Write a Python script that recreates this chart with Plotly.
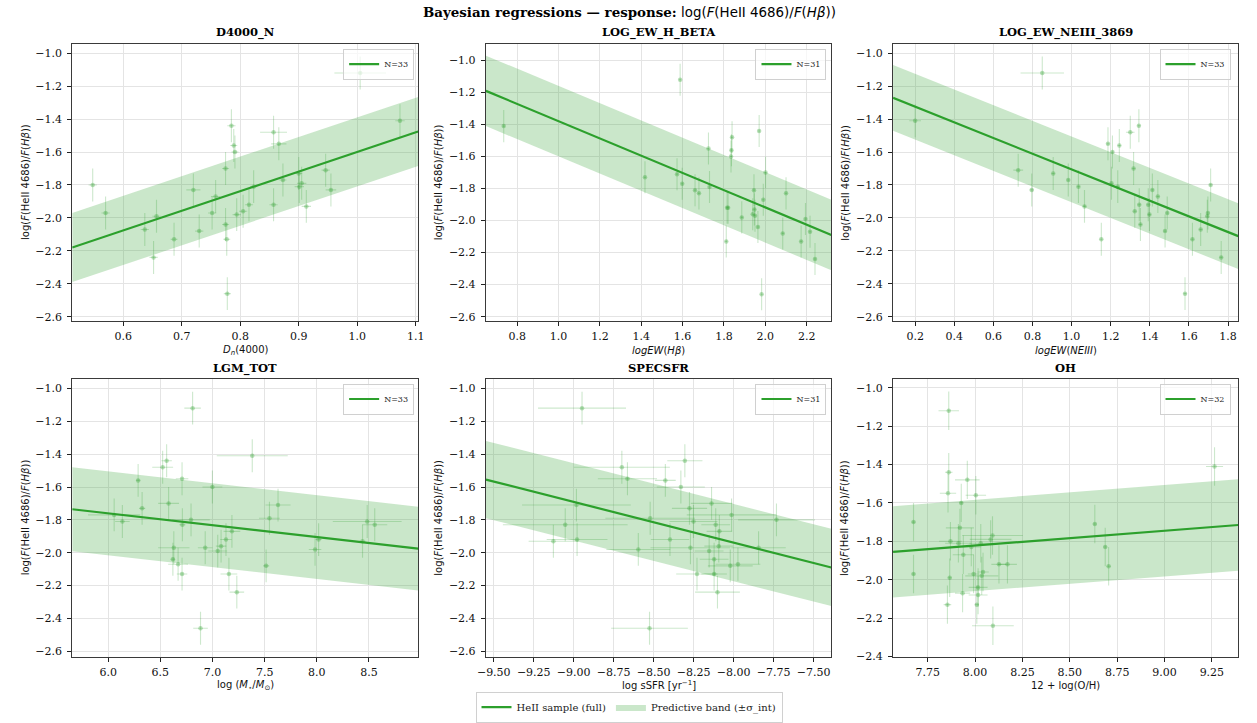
import numpy as np
import plotly.graph_objects as go

W, H = 1257, 723
GREEN = "#2ca02c"
PT_COL = "rgba(44,160,44,0.32)"
ERR_COL = "rgba(44,160,44,0.24)"
BAND_COL = "rgba(44,160,44,0.25)"
SERIF = "DejaVu Serif"
SANS = "DejaVu Sans"

# ---------------- data ----------------
YERR = 0.10

# D4000_N
D4000_X = [0.548, 0.570, 0.637, 0.652, 0.657, 0.687, 0.720, 0.730, 0.752, 0.758, 0.775,
           0.775, 0.777, 0.778, 0.785, 0.789, 0.791, 0.794, 0.805, 0.815, 0.823, 0.857,
           0.857, 0.866, 0.873, 0.900, 0.901, 0.905, 0.913, 0.946, 0.955, 1.005, 1.073]
D4000_Y = [-1.80, -1.97, -2.07, -2.24, -1.99, -2.13, -1.83, -2.08, -1.97, -1.87, -1.70,
           -2.04, -2.13, -2.46, -1.44, -1.56, -1.60, -1.98, -1.96, -1.92, -1.81, -1.48,
           -1.92, -1.55, -1.77, -1.73, -1.81, -1.79, -1.93, -1.71, -1.83, -1.12, -1.41]
D4000_XERR = [0.007, 0.007, 0.007, 0.007, 0.007, 0.006, 0.012, 0.007, 0.007, 0.008, 0.006,
              0.006, 0.006, 0.006, 0.007, 0.006, 0.006, 0.007, 0.007, 0.007, 0.006, 0.023,
              0.007, 0.013, 0.006, 0.006, 0.008, 0.008, 0.008, 0.007, 0.009, 0.044, 0.008]

# LOG_EW_H_BETA
HB_X = [0.735, 1.418, 1.573, 1.588, 1.598, 1.660, 1.679, 1.725, 1.730, 1.811, 1.815,
        1.820, 1.834, 1.836, 1.839, 1.886, 1.939, 1.945, 1.947, 1.950, 1.964, 1.970,
        1.982, 1.990, 2.001, 2.084, 2.100, 2.173, 2.194, 2.216, 2.240]
HB_Y = [-1.41, -1.73, -1.71, -1.12, -1.77, -1.81, -1.83, -1.55, -1.79, -2.13, -1.92,
        -1.92, -1.60, -1.56, -1.48, -1.98, -1.96, -1.81, -1.93, -1.97, -2.04, -1.44,
        -2.46, -1.87, -1.70, -2.08, -1.83, -2.13, -1.99, -2.07, -2.24]
HB_XERR = [0.006] * 31

# LOG_EW_NEIII_3869
NE_X = [0.200, 0.850, 0.727, 0.796, 0.906, 0.983, 1.035, 1.066, 1.152, 1.186, 1.209,
        1.204, 1.244, 1.236, 1.300, 1.344, 1.317, 1.323, 1.346, 1.352, 1.392, 1.398,
        1.413, 1.441, 1.478, 1.489, 1.580, 1.618, 1.660, 1.694, 1.697, 1.711, 1.765]
NE_Y = [-1.41, -1.12, -1.71, -1.83, -1.73, -1.77, -1.81, -1.93, -2.13, -1.55, -1.60,
        -1.79, -1.56, -1.81, -1.48, -1.44, -1.70, -1.96, -1.92, -2.04, -1.92, -1.98,
        -1.83, -1.87, -2.08, -1.97, -2.46, -2.13, -2.07, -1.99, -1.97, -1.80, -2.24]
NE_XERR = [0.030, 0.111, 0.025, 0.010, 0.008, 0.008, 0.008, 0.008, 0.008, 0.008, 0.008,
           0.008, 0.008, 0.008, 0.022, 0.008, 0.008, 0.008, 0.008, 0.008, 0.008, 0.008,
           0.008, 0.008, 0.008, 0.008, 0.008, 0.008, 0.008, 0.008, 0.008, 0.008, 0.008]

# LGM_TOT
LGM_X = [6.809, 6.287, 6.325, 6.057, 6.136, 6.522, 6.560, 6.579, 6.708, 6.711, 6.794,
         6.629, 6.620, 6.670, 6.708, 6.885, 6.930, 6.999, 7.050, 7.082, 7.129, 7.186,
         7.157, 7.233, 7.381, 7.514, 7.546, 7.628, 7.983, 8.017, 8.483, 8.555, 8.438]
LGM_Y = [-1.12, -1.56, -1.73, -1.77, -1.81, -1.48, -1.44, -1.70, -1.55, -1.83, -1.80,
         -1.97, -2.04, -2.07, -2.13, -2.46, -1.97, -1.60, -1.99, -1.96, -1.92, -1.87,
         -2.13, -2.24, -1.41, -2.08, -1.79, -1.71, -1.98, -1.92, -1.81, -1.83, -1.93]
LGM_XERR = [0.079, 0.020, 0.030, 0.250, 0.070, 0.100, 0.050, 0.100, 0.060, 0.030, 0.180,
            0.150, 0.020, 0.095, 0.050, 0.070, 0.070, 0.095, 0.090, 0.050, 0.055, 0.080,
            0.080, 0.070, 0.340, 0.030, 0.100, 0.120, 0.060, 0.030, 0.330, 0.120, 0.030]

# SPECSFR
SSFR_X = [-8.948, -9.127, -9.053, -8.983, -8.979, -8.699, -8.664, -8.596, -8.526, -8.522,
          -8.427, -8.398, -8.330, -8.305, -8.276, -8.270, -8.251, -8.229, -8.153, -8.138,
          -8.122, -8.122, -8.112, -8.101, -8.089, -8.093, -8.021, -8.013, -7.973, -7.844, -7.732]
SSFR_Y = [-1.12, -1.93, -1.83, -1.71, -1.92, -1.48, -1.55, -1.98, -2.46, -1.79,
          -1.56, -1.92, -1.60, -1.44, -1.73, -1.97, -1.81, -2.13, -1.99, -1.70,
          -2.04, -2.13, -1.83, -2.24, -1.87, -1.96, -2.08, -1.77, -2.07, -1.97, -1.80]
SSFR_XERR = [0.275, 0.155, 0.390, 0.340, 0.190, 0.300, 0.185, 0.200, 0.240, 0.280,
             0.065, 0.120, 0.150, 0.110, 0.110, 0.250, 0.150, 0.130, 0.090, 0.130,
             0.090, 0.080, 0.090, 0.140, 0.080, 0.090, 0.140, 0.280, 0.140, 0.170, 0.240]

# OH
OH_X = [7.861, 7.861, 7.857, 7.959, 8.004, 7.927, 7.920, 7.870, 7.912, 7.938, 7.866,
        7.854, 7.934, 7.992, 8.009, 8.016, 8.016, 8.035, 8.042, 8.030, 8.082, 8.092,
        8.094, 8.126, 8.171, 8.632, 8.687, 8.705, 9.264, 7.675, 7.675, 7.980]
OH_Y = [-1.12, -1.44, -1.55, -1.48, -1.56, -1.60, -1.73, -1.80, -1.81, -1.87, -1.99,
        -2.13, -2.07, -1.97, -2.13, -2.04, -2.08, -1.98, -1.96, -1.81, -1.79, -1.77,
        -2.24, -1.92, -1.92, -1.71, -1.83, -1.93, -1.41, -1.70, -1.97, -1.83]
OH_XERR = [0.054, 0.020, 0.043, 0.065, 0.054, 0.010, 0.074, 0.060, 0.070, 0.056, 0.010,
           0.020, 0.040, 0.030, 0.010, 0.050, 0.050, 0.087, 0.030, 0.060, 0.110, 0.160,
           0.110, 0.040, 0.050, 0.010, 0.010, 0.010, 0.045, 0.010, 0.010, 0.050]

# regression fits: (intercept, slope, sigma_int) and fit-grid x limits
FITS = [(-2.792, 1.193, 0.21), (-0.840, -0.539, 0.22), (-1.229, -0.476, 0.20),
        (-1.326, -0.0724, 0.255), (-3.920, -0.2477, 0.235), (-2.436, 0.0768, 0.238)]
XLIMS = [(0.513, 1.104), (0.649, 2.319), (0.087, 1.852),
         (5.655, 8.971), (-9.549, -7.389), (7.567, 9.389)]
YLIMS = [(-2.628, -0.9416), (-2.629, -0.895), (-2.628, -0.9416),
         (-2.636, -0.9396), (-2.636, -0.9396), (-2.4036, -0.952)]
TITLES = ["D4000_N", "LOG_EW_H_BETA", "LOG_EW_NEIII_3869", "LGM_TOT", "SPECSFR", "OH"]
XLABELS = ["<i>D<sub>n</sub></i>(4000)", "<i>logEW</i>(<i>Hβ</i>)", "<i>logEW</i>(<i>NEIII</i>)",
           "log (<i>M</i><sub>⋆</sub>/<i>M</i><sub>⊙</sub>)", "log sSFR [yr<sup>−1</sup>]",
           "12 + log(O/H)"]
YLABEL = "log(<i>F</i>(HeII 4686)/<i>F</i>(<i>Hβ</i>))"
XDTICK = [(0.6, 0.1, ".1f"), (0.8, 0.2, ".1f"), (0.2, 0.2, ".1f"),
          (6.0, 0.5, ".1f"), (-9.5, 0.25, ".2f"), (7.75, 0.25, ".2f")]
DATA = [(D4000_X, D4000_Y, D4000_XERR), (HB_X, HB_Y, HB_XERR), (NE_X, NE_Y, NE_XERR),
        (LGM_X, LGM_Y, LGM_XERR), (SSFR_X, SSFR_Y, SSFR_XERR), (OH_X, OH_Y, OH_XERR)]

# ---------------- layout geometry ----------------
COLS = [(0.0509, 0.3294), (0.3840, 0.6621), (0.7118, 0.9897)]
ROWS = [(0.5519, 0.9391), (0.0834, 0.4721)]
YLAB_X = [0.0133, 0.3461, 0.6733]
XLAB_Y = [0.5118, 0.0443]
TITLE_Y = [0.9544, 0.4862]
LEG_X = [0.3262, 0.6582, 0.9835]
LEG_Y = [0.9322, 0.4651]

fig = go.Figure()

# dummy for the main legend
fig.add_trace(go.Scatter(x=[None], y=[None], mode="lines", line=dict(color=GREEN, width=2.2),
                         name="HeII sample (full)", legend="legend", showlegend=True,
                         xaxis="x", yaxis="y"))

annotations = []
layout = dict()
for i in range(6):
    r, c = divmod(i, 3)
    sfx = "" if i == 0 else str(i + 1)
    xa, ya = "x" + sfx, "y" + sfx
    a, b, s = FITS[i]
    xs = np.array(XLIMS[i])
    yl = a + b * xs
    # band
    fig.add_trace(go.Scatter(
        x=np.concatenate([xs, xs[::-1]]), y=np.concatenate([yl + s, (yl - s)[::-1]]),
        fill="toself", fillcolor=BAND_COL, line=dict(width=0), mode="lines",
        name="Predictive band (±σ_int)", showlegend=(i == 0), legend="legend",
        hoverinfo="skip", xaxis=xa, yaxis=ya))
    # points
    px_, py_, pxe = DATA[i]
    fig.add_trace(go.Scatter(
        x=px_, y=py_, mode="markers",
        marker=dict(color=PT_COL, size=4.5, line=dict(width=0)),
        error_x=dict(type="data", array=pxe, color=ERR_COL, thickness=1.1, width=0),
        error_y=dict(type="data", array=[YERR] * len(py_), color=ERR_COL, thickness=1.1, width=0),
        showlegend=False, xaxis=xa, yaxis=ya))
    # line
    lg = "legend" + str(i + 2)
    fig.add_trace(go.Scatter(x=xs, y=yl, mode="lines", line=dict(color=GREEN, width=2.2),
                             name="N=%d" % len(px_), legend=lg, showlegend=True,
                             xaxis=xa, yaxis=ya))
    t0, dt, fmt = XDTICK[i]
    common = dict(showgrid=True, gridcolor="#e4e4e4", gridwidth=1, zeroline=False,
                  showline=True, mirror=True, linecolor="#3a3a3a", linewidth=1.2,
                  ticks="outside", ticklen=4, tickwidth=1, tickcolor="#222",
                  tickfont=dict(family=SERIF, size=11, color="#111"))
    layout["xaxis" + sfx] = dict(domain=list(COLS[c]), range=list(XLIMS[i]), anchor=ya,
                                 tick0=t0, dtick=dt, tickformat=fmt, **common)
    layout["yaxis" + sfx] = dict(domain=list(ROWS[r]), range=list(YLIMS[i]), anchor=xa,
                                 tick0=-1.0, dtick=0.2, tickformat=".1f",
                                 ticklabelstandoff=3, **common)
    layout[lg] = dict(x=LEG_X[c], y=LEG_Y[r], xanchor="right", yanchor="top",
                      bgcolor="rgba(255,255,255,0.7)", bordercolor="#d0d0d0", borderwidth=1,
                      font=dict(family=SERIF, size=8, color="#222"), itemwidth=30,
                      tracegroupgap=0)
    xc = (COLS[c][0] + COLS[c][1]) / 2
    annotations.append(dict(text="<b>%s</b>" % TITLES[i], x=xc, y=TITLE_Y[r], xref="paper",
                            yref="paper", showarrow=False, xanchor="center", yanchor="middle",
                            font=dict(family=SERIF, size=11.5, color="#000")))
    annotations.append(dict(text=XLABELS[i], x=xc, y=XLAB_Y[r], xref="paper", yref="paper",
                            showarrow=False, xanchor="center", yanchor="middle",
                            font=dict(family=SANS, size=10, color="#111")))
    yc = (ROWS[r][0] + ROWS[r][1]) / 2
    annotations.append(dict(text=YLABEL, x=YLAB_X[c], y=yc, xref="paper", yref="paper",
                            showarrow=False, xanchor="center", yanchor="middle", textangle=-90,
                            font=dict(family=SANS, size=10, color="#111")))

annotations.append(dict(
    text="<b>Bayesian regressions — response:</b> <span style='font-family:DejaVu Sans'>"
         "log(<i>F</i>(HeII 4686)/<i>F</i>(<i>Hβ</i>))</span>",
    x=0.4996, y=0.9839, xref="paper", yref="paper", showarrow=False,
    xanchor="center", yanchor="middle", font=dict(family=SERIF, size=13.4, color="#000")))

fig.update_layout(
    width=W, height=H, margin=dict(l=0, r=0, t=0, b=0),
    paper_bgcolor="white", plot_bgcolor="white",
    annotations=annotations,
    legend=dict(x=0.4992, y=0.0138, xanchor="center", yanchor="middle", orientation="h",
                bgcolor="white", bordercolor="#d0d0d0", borderwidth=1,
                font=dict(family=SERIF, size=10, color="#222"), itemwidth=30),
    **layout)

fig.write_html("out.html")
